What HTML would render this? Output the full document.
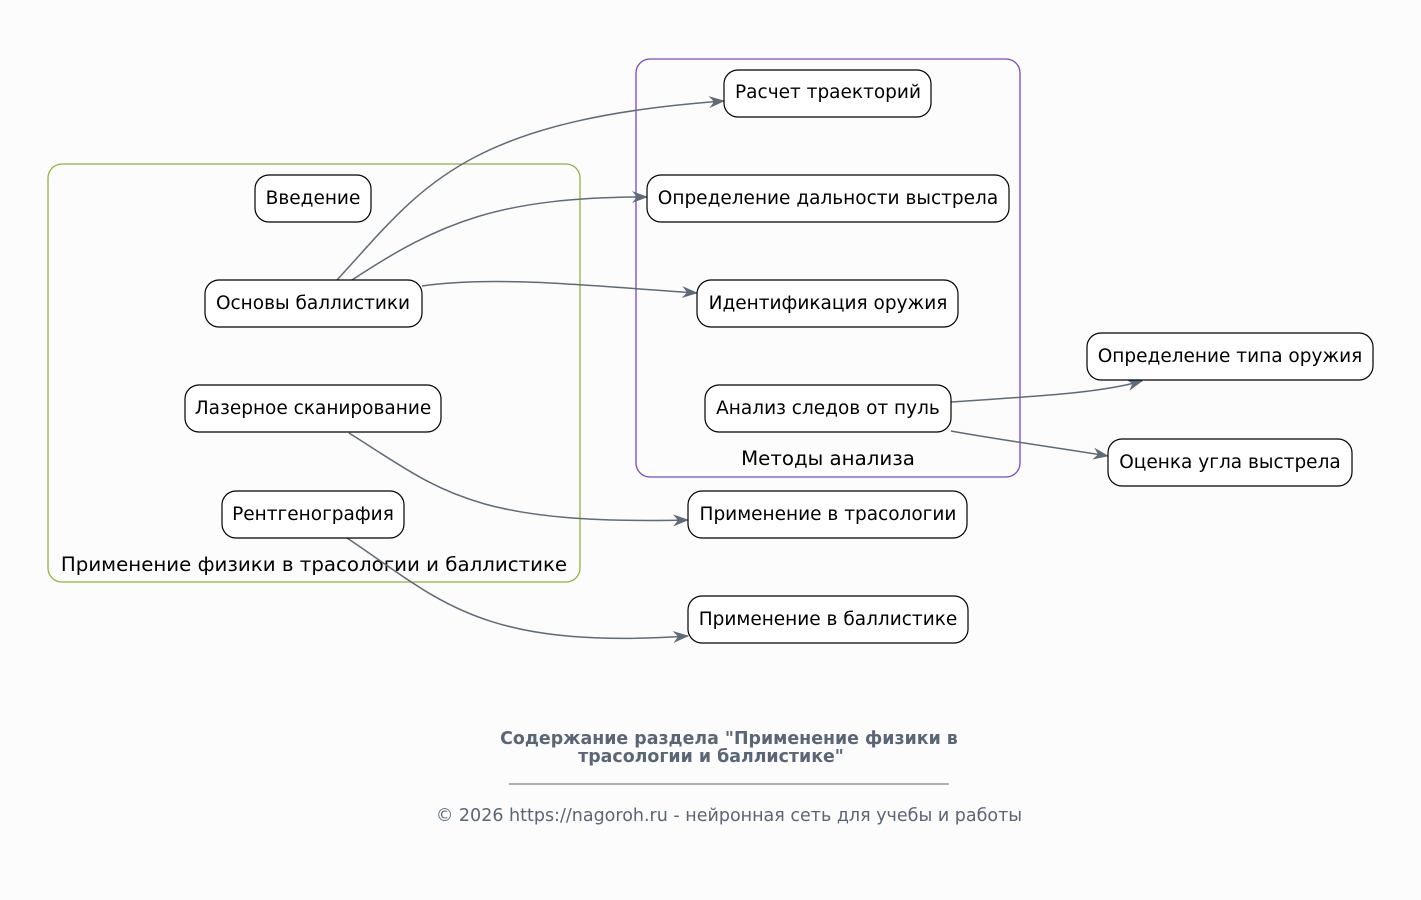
<!DOCTYPE html>
<html><head><meta charset="utf-8"><style>
html,body{margin:0;padding:0;background:#fcfcfc;}
svg{display:block;font-family:"DejaVu Sans","Liberation Sans",sans-serif;}
.n{fill:#fff;stroke:#000;stroke-width:1.2;}
.t{font-size:18.5px;fill:#000;text-anchor:middle;}
.e{fill:none;stroke:#5f6b78;stroke-width:1.5;}
</style></head><body>
<svg width="1421" height="900" viewBox="0 0 1421 900" xmlns="http://www.w3.org/2000/svg">
<defs><marker id="a" viewBox="0 0 16 12" refX="15" refY="6" markerWidth="16" markerHeight="12" markerUnits="userSpaceOnUse" orient="auto"><path d="M0,0 L16,6 L0,12 L5,6 Z" fill="#5f6b78"/></marker></defs>
<rect x="0" y="0" width="1421" height="900" fill="#fcfcfc"/>
<rect x="48" y="164" width="532" height="418" rx="14" fill="none" stroke="#8fb33f" stroke-width="1.3"/>
<text x="314" y="571" class="t" style="font-size:19.8px">Применение физики в трасологии и баллистике</text>
<rect x="636" y="59" width="384" height="418" rx="14" fill="none" stroke="#7b45c8" stroke-width="1.3"/>
<text x="828" y="465" class="t" style="font-size:19.8px">Методы анализа</text>

<path class="e" marker-end="url(#a)" d="M337,280 C420,190 460,120 724,101"/>
<path class="e" marker-end="url(#a)" d="M352,280 C440,222 500,197 647,197"/>
<path class="e" marker-end="url(#a)" d="M422,286 C500,275 600,287 697,293"/>
<path class="e" marker-end="url(#a)" d="M349,433 C440,490 470,525 688,520"/>
<path class="e" marker-end="url(#a)" d="M347,538 C440,600 480,650 688,636"/>
<path class="e" marker-end="url(#a)" d="M951,402 C1040,396 1100,393 1142,381"/>
<path class="e" marker-end="url(#a)" d="M951,431 C1000,440 1060,448 1108,456"/>

<rect class="n" x="255" y="175" width="116" height="47" rx="14"/><text class="t" x="313" y="204">Введение</text>
<rect class="n" x="205" y="280" width="217" height="47" rx="14"/><text class="t" x="313" y="309">Основы баллистики</text>
<rect class="n" x="185" y="385" width="256" height="47" rx="14"/><text class="t" x="313" y="414">Лазерное сканирование</text>
<rect class="n" x="222" y="491" width="182" height="47" rx="14"/><text class="t" x="313" y="520">Рентгенография</text>
<rect class="n" x="724" y="70" width="207" height="47" rx="14"/><text class="t" x="828" y="98">Расчет траекторий</text>
<rect class="n" x="647" y="175" width="362" height="47" rx="14"/><text class="t" x="828" y="204">Определение дальности выстрела</text>
<rect class="n" x="697" y="280" width="261" height="47" rx="14"/><text class="t" x="828" y="309">Идентификация оружия</text>
<rect class="n" x="705" y="385" width="246" height="47" rx="14"/><text class="t" x="828" y="414">Анализ следов от пуль</text>
<rect class="n" x="688" y="491" width="279" height="47" rx="14"/><text class="t" x="828" y="520">Применение в трасологии</text>
<rect class="n" x="688" y="596" width="280" height="47" rx="14"/><text class="t" x="828" y="625">Применение в баллистике</text>
<rect class="n" x="1087" y="333" width="286" height="47" rx="14"/><text class="t" x="1230" y="362">Определение типа оружия</text>
<rect class="n" x="1108" y="439" width="244" height="47" rx="14"/><text class="t" x="1230" y="468">Оценка угла выстрела</text>

<text x="729" y="744" style="font-size:17.4px;font-weight:bold;fill:#5a6676;text-anchor:middle">Содержание раздела "Применение физики в</text>
<text x="711" y="762" style="font-size:17.4px;font-weight:bold;fill:#5a6676;text-anchor:middle">трасологии и баллистике"</text>
<line x1="509" y1="784" x2="949" y2="784" stroke="#5a6676" stroke-width="1"/>
<text x="729" y="821" style="font-size:17.5px;fill:#5a6676;text-anchor:middle">© 2026 https://nagoroh.ru - нейронная сеть для учебы и работы</text>
</svg>
</body></html>
